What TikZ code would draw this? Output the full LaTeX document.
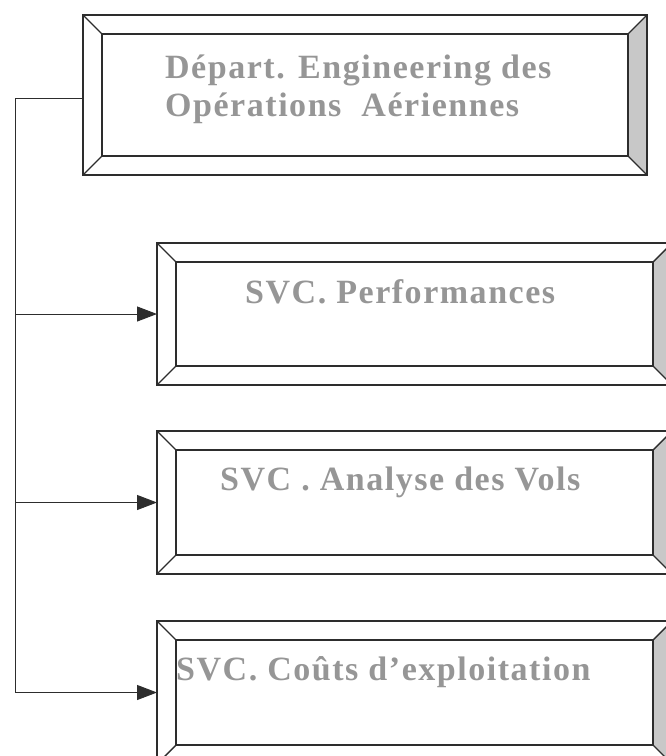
\documentclass[tikz,border=0pt]{standalone}
\usepackage{fontspec}
\setmainfont{Liberation Serif}
\newfontfamily\lblfont[LetterSpace=4.5]{Liberation Serif}
\usetikzlibrary{arrows.meta}
\definecolor{txtgray}{RGB}{150,150,150}
\definecolor{linegray}{RGB}{45,45,45}
\definecolor{bevelfill}{RGB}{200,200,200}
\newcommand{\bevelbox}[1]{%
  \fill[bevelfill] (#1.north east) -- ([shift={(-19pt,-19pt)}]#1.north east) -- ([shift={(-19pt,19pt)}]#1.south east) -- (#1.south east) -- cycle;
  \draw[boxline] ([shift={(19pt,-19pt)}]#1.north west) rectangle ([shift={(-19pt,19pt)}]#1.south east);
  \draw[boxline] (#1.north west) -- ++(19pt,-19pt) (#1.north east) -- ++(-19pt,-19pt)
                 (#1.south west) -- ++(19pt,19pt) (#1.south east) -- ++(-19pt,19pt);
  \draw[boxline] (#1.north west) rectangle (#1.south east);
}
\begin{document}
\begin{tikzpicture}[x=1pt,y=-1pt,
  boxline/.style={draw=linegray, line width=1.4pt},
  outerbox/.style={draw=none, inner sep=0pt, outer sep=0pt},
  lbl/.style={anchor=base west, inner sep=0pt, text=txtgray, font=\lblfont\fontsize{34pt}{38pt}\selectfont\bfseries},
  conn/.style={draw=linegray, line width=1pt},
  arr/.style={conn, -{Triangle[length=20pt, width=15pt]}}]
\useasboundingbox (0,0) rectangle (666,756);
\fill[white] (0,0) rectangle (666,756);

\node[outerbox, minimum width=564pt, minimum height=160pt] (top) at (365,95) {};
\node[outerbox, minimum width=515pt, minimum height=142pt] (b2) at (414.5,314) {};
\node[outerbox, minimum width=515pt, minimum height=143pt] (b3) at (414.5,502.5) {};
\node[outerbox, minimum width=515pt, minimum height=143pt] (b4) at (414.5,692.5) {};

\bevelbox{top}
\bevelbox{b2}
\bevelbox{b3}
\bevelbox{b4}

\node[lbl] (t1a) at (165,78) {Départ. Engineering des};
\node[lbl] (t1b) at (165,116) {Opérations~ Aériennes};
\node[lbl] (t2) at (245,303) {SVC. Performances};
\node[lbl] (t3) at (220,490) {SVC . Analyse des Vols};
\node[lbl] (t4) at (176,680) {SVC. Coûts d’exploitation};

\coordinate (j0) at (15,98);
\draw[conn] (j0 -| top.west) -- (j0) -- (j0 |- b4.west);
\draw[arr] (j0 |- b2.west) -- (b2.west);
\draw[arr] (j0 |- b3.west) -- (b3.west);
\draw[arr] (j0 |- b4.west) -- (b4.west);
\end{tikzpicture}
\end{document}
